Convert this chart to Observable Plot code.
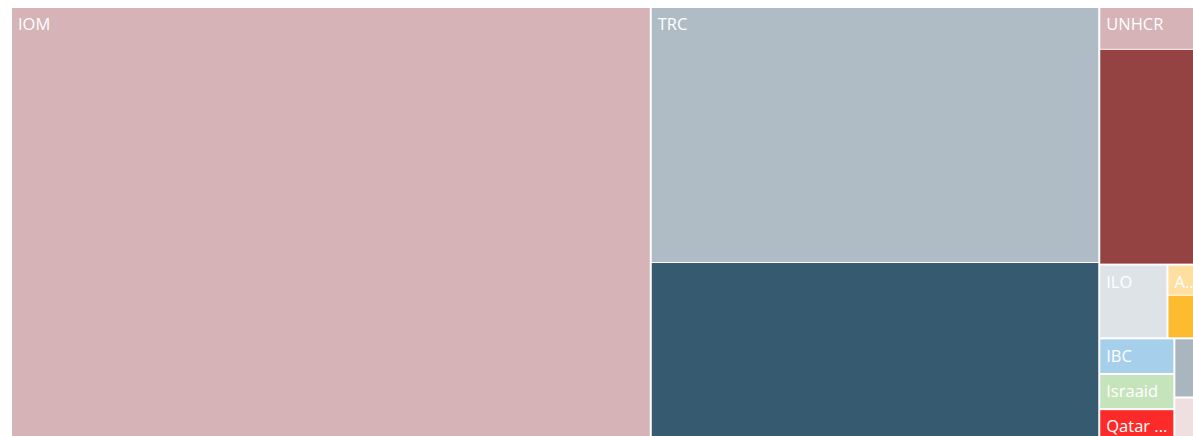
<!DOCTYPE html>
<html>
<head>
<meta charset="utf-8">
<script src="https://cdn.jsdelivr.net/npm/d3@7"></script>
<script src="https://cdn.jsdelivr.net/npm/@observablehq/plot@0.6"></script>
<style>
  html, body { margin: 0; padding: 0; background: #fff; overflow: hidden; }
  #chart svg { display: block; max-width: none; }
</style>
</head>
<body>
<div id="chart"></div>
<script>
// Group labels (as shown in the reference; last two are unlabeled small tiles)
const groups = ["IOM", "TRC", "UNHCR", "ILO", "A...", "IBC", "Israaid", "Qatar ...", "", ""];
// Values of the sub-categories inside each group (estimated from tile areas)
const groupValues = [
  [278.0],
  [114.0, 80.9],
  [4.5, 23.1],
  [5.0],
  [1.2, 1.7],
  [2.66],
  [2.63],
  [2.60],
  [1.92],
  [1.51]
];
// Colours of the sub-category tiles
const palette = [
  ["#d5b3b6"],
  ["#afbcc5", "#365a70"],
  ["#d5b3b6", "#954243"],
  ["#dee3e8"],
  ["#fedf9f", "#fdbb30"],
  ["#a5cfeb"],
  ["#c6e4bc"],
  ["#fd2a2a"],
  ["#a9b6bf"],
  ["#efdfe1"]
];

const W = 1194, H = 435;

const rootData = {
  children: groups.map((g, i) => ({
    name: g, gi: i,
    children: groupValues[i].map((v, j) => ({ value: v, gi: i, ci: j }))
  }))
};

const root = d3.hierarchy(rootData).sum(d => d.value || 0);
d3.treemap()
  .size([W, H])
  .tile(d3.treemapSquarify)
  .paddingInner(n => n.depth === 0 ? 2 : 1)(root);

const tiles = root.leaves().map(l => ({
  x1: l.x0, x2: l.x1, y1: l.y0, y2: l.y1,
  fill: palette[l.data.gi][l.data.ci]
}));
const labels = root.children.map(n => ({ x: n.x0, y: n.y0, text: n.data.name }));

const chart = Plot.plot({
  width: 1193,
  height: 436,
  margin: 0,
  x: { domain: [0, W], range: [12, 12 + W], axis: null },
  y: { domain: [0, H], range: [8, 8 + H], axis: null },
  color: { type: "identity" },
  style: { fontFamily: "'Open Sans', sans-serif", background: "#fff" },
  marks: [
    Plot.rect(tiles, { x1: "x1", x2: "x2", y1: "y1", y2: "y2", fill: "fill" }),
    Plot.text(labels, {
      x: "x", y: "y", text: "text",
      dx: 5.5, dy: 10,
      textAnchor: "start", lineAnchor: "top",
      fill: "white", fontSize: 16.5
    })
  ]
});
document.getElementById("chart").appendChild(chart);
</script>
</body>
</html>
